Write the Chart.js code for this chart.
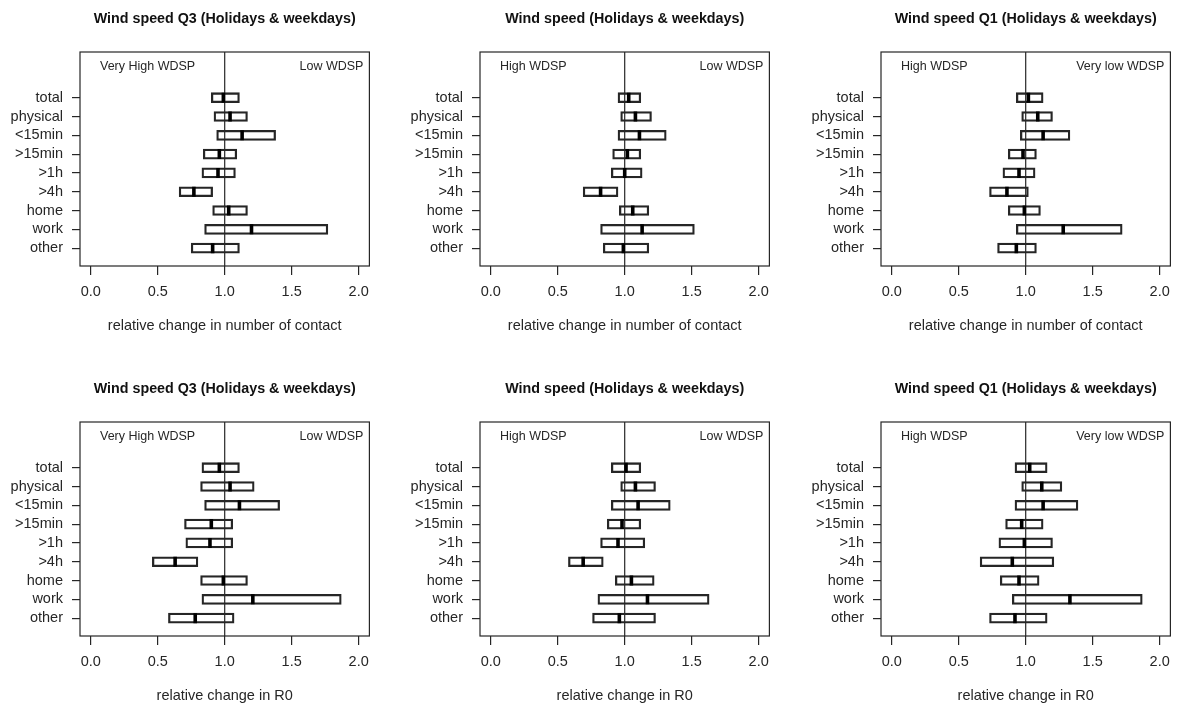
<!DOCTYPE html>
<html>
<head>
<meta charset="utf-8">
<script src="https://cdn.jsdelivr.net/npm/chart.js@4/dist/chart.umd.min.js"></script>
<style>
  body { margin: 0; background: #fff; }
  #wrap { position: relative; width: 1179px; height: 708px; }
  canvas { position: absolute; }
</style>
</head>
<body>
<div id="wrap"></div>
<script>
// categories, top to bottom
const categories = ['total', 'physical', '<15min', '>15min', '>1h', '>4h', 'home', 'work', 'other'];
const xTicks = [0, 0.5, 1, 1.5, 2];

const panelTitles = ['Wind speed Q3 (Holidays & weekdays)', 'Wind speed (Holidays & weekdays)', 'Wind speed Q1 (Holidays & weekdays)'];
const leftNotes = ['Very High WDSP', 'High WDSP', 'High WDSP'];
const rightNotes = ['Low WDSP', 'Low WDSP', 'Very low WDSP'];
const axisTitles = ['relative change in number of contact', 'relative change in R0'];

// --- contacts (top row) ---
const contactQ3Lo  = [0.90, 0.92, 0.94, 0.84, 0.83, 0.66, 0.91, 0.85, 0.75];
const contactQ3Med = [0.99, 1.04, 1.13, 0.96, 0.95, 0.77, 1.03, 1.20, 0.91];
const contactQ3Hi  = [1.11, 1.17, 1.38, 1.09, 1.08, 0.91, 1.17, 1.77, 1.11];

const contactMidLo  = [0.95, 0.97, 0.95, 0.91, 0.90, 0.69, 0.96, 0.82, 0.84];
const contactMidMed = [1.03, 1.08, 1.11, 1.02, 1.00, 0.82, 1.06, 1.13, 0.99];
const contactMidHi  = [1.12, 1.20, 1.31, 1.12, 1.13, 0.95, 1.18, 1.52, 1.18];

const contactQ1Lo  = [0.93, 0.97, 0.96, 0.87, 0.83, 0.73, 0.87, 0.93, 0.79];
const contactQ1Med = [1.02, 1.09, 1.13, 0.98, 0.95, 0.86, 0.99, 1.28, 0.93];
const contactQ1Hi  = [1.13, 1.20, 1.33, 1.08, 1.07, 1.02, 1.11, 1.72, 1.08];

// --- R0 (bottom row) ---
const r0Q3Lo  = [0.83, 0.82, 0.85, 0.70, 0.71, 0.46, 0.82, 0.83, 0.58];
const r0Q3Med = [0.96, 1.04, 1.11, 0.90, 0.89, 0.63, 0.99, 1.21, 0.78];
const r0Q3Hi  = [1.11, 1.22, 1.41, 1.06, 1.06, 0.80, 1.17, 1.87, 1.07];

const r0MidLo  = [0.90, 0.97, 0.90, 0.87, 0.82, 0.58, 0.93, 0.80, 0.76];
const r0MidMed = [1.01, 1.08, 1.10, 0.98, 0.95, 0.69, 1.05, 1.17, 0.96];
const r0MidHi  = [1.12, 1.23, 1.34, 1.12, 1.15, 0.84, 1.22, 1.63, 1.23];

const r0Q1Lo  = [0.92, 0.97, 0.92, 0.85, 0.80, 0.66, 0.81, 0.90, 0.73];
const r0Q1Med = [1.03, 1.12, 1.13, 0.97, 0.99, 0.90, 0.95, 1.33, 0.92];
const r0Q1Hi  = [1.16, 1.27, 1.39, 1.13, 1.20, 1.21, 1.10, 1.87, 1.16];

const FONT = "'Liberation Sans', Arial, sans-serif";
const INK = '#262626';
const colLeft = [0, 400, 801];
const rowTop = [0, 370];
const CANVAS_W = 378, CANVAS_H = 354;

// y position: total on top (9) down to other (1)
const yPos = i => categories.length - i;

// frame, reference line at 1, titles and notes
const panelDeco = {
  id: 'panelDeco',
  beforeDatasetsDraw(chart, args, opts) {
    const { ctx, chartArea: a, scales } = chart;
    ctx.save();
    ctx.strokeStyle = INK;
    ctx.lineWidth = 1.2;
    ctx.strokeRect(a.left, a.top, a.right - a.left, a.bottom - a.top);
    const x1 = scales.x.getPixelForValue(1);
    ctx.beginPath();
    ctx.moveTo(x1, a.top);
    ctx.lineTo(x1, a.bottom);
    ctx.stroke();
    ctx.restore();
  },
  afterDraw(chart, args, opts) {
    const { ctx, chartArea: a } = chart;
    const cx = (a.left + a.right) / 2;
    ctx.save();
    ctx.textBaseline = 'middle';
    ctx.fillStyle = '#111';
    ctx.textAlign = 'center';
    ctx.font = 'bold 14.3px ' + FONT;
    ctx.fillText(opts.title, cx, a.top - 33);
    ctx.fillStyle = INK;
    ctx.font = '14.5px ' + FONT;
    ctx.fillText(opts.axisTitle, cx, a.bottom + 60);
    ctx.font = '12.5px ' + FONT;
    ctx.textAlign = 'left';
    ctx.fillText(opts.leftNote, a.left + 20, a.top + 15);
    ctx.textAlign = 'right';
    ctx.fillText(opts.rightNote, a.right - 6, a.top + 15);
    ctx.restore();
  }
};

function makePanel(row, col, lo, med, hi) {
  const canvas = document.createElement('canvas');
  canvas.width = CANVAS_W;
  canvas.height = CANVAS_H;
  canvas.style.left = colLeft[col] + 'px';
  canvas.style.top = rowTop[row] + 'px';
  document.getElementById('wrap').appendChild(canvas);

  return new Chart(canvas.getContext('2d'), {
    type: 'bar',
    data: {
      datasets: [{
        // median marks
        type: 'scatter',
        order: 0,
        data: categories.map((c, i) => ({ x: med[i], y: yPos(i) })),
        pointStyle: 'line',
        pointRotation: 90,
        pointRadius: 5,
        pointBorderWidth: 3.6,
        pointBorderColor: '#000',
        showLine: false
      }, {
        // interval boxes
        type: 'bar',
        order: 1,
        data: categories.map((c, i) => ({ x: [lo[i], hi[i]], y: yPos(i) })),
        barThickness: 10,
        borderWidth: 1.6,
        borderColor: INK,
        backgroundColor: 'rgba(255,255,255,0)',
        borderSkipped: false
      }]
    },
    options: {
      indexAxis: 'y',
      responsive: false,
      animation: false,
      events: [],
      layout: { padding: { left: 0, right: 3, top: 52, bottom: 0 } },
      scales: {
        x: {
          type: 'linear',
          position: 'bottom',
          min: -0.08, max: 2.08,
          afterBuildTicks: s => { s.ticks = xTicks.map(v => ({ value: v })); },
          afterFit: s => { s.height = 88; },
          ticks: {
            callback: v => Number(v).toFixed(1),
            color: INK, padding: 8, maxRotation: 0, autoSkip: false,
            font: { family: FONT, size: 14.5 }
          },
          grid: { drawOnChartArea: false, drawTicks: true, tickLength: 9, color: INK, lineWidth: 1.2 },
          border: { display: false }
        },
        y: {
          type: 'linear',
          offset: false,
          min: 0.05, max: 11.43,
          afterBuildTicks: s => { s.ticks = categories.map((c, i) => ({ value: yPos(i) })); },
          afterFit: s => { s.width = 80; },
          ticks: {
            callback: v => categories[categories.length - v],
            color: INK, padding: 9, autoSkip: false,
            font: { family: FONT, size: 14.5 }
          },
          grid: { offset: false, drawOnChartArea: false, drawTicks: true, tickLength: 8, color: INK, lineWidth: 1.2 },
          border: { display: false }
        }
      },
      plugins: {
        legend: { display: false },
        tooltip: { enabled: false },
        panelDeco: {
          title: panelTitles[col],
          axisTitle: axisTitles[row],
          leftNote: leftNotes[col],
          rightNote: rightNotes[col]
        }
      }
    },
    plugins: [panelDeco]
  });
}

makePanel(0, 0, contactQ3Lo, contactQ3Med, contactQ3Hi);
makePanel(0, 1, contactMidLo, contactMidMed, contactMidHi);
makePanel(0, 2, contactQ1Lo, contactQ1Med, contactQ1Hi);
makePanel(1, 0, r0Q3Lo, r0Q3Med, r0Q3Hi);
makePanel(1, 1, r0MidLo, r0MidMed, r0MidHi);
makePanel(1, 2, r0Q1Lo, r0Q1Med, r0Q1Hi);
</script>
</body>
</html>
